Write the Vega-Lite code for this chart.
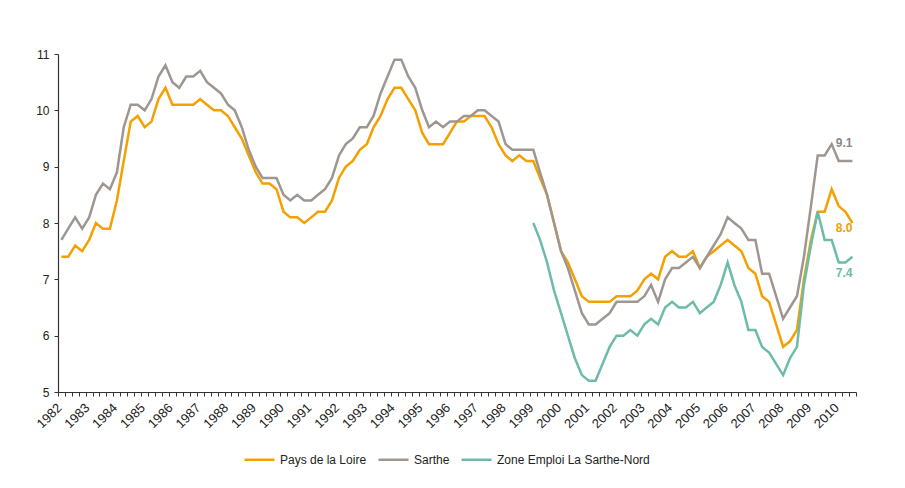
{
  "$schema": "https://vega.github.io/schema/vega-lite/v6.json",
  "width": 798,
  "height": 338,
  "autosize": "none",
  "padding": {"left": 58, "top": 54, "right": 49, "bottom": 96},
  "background": "white",
  "config": {
    "view": {"stroke": null},
    "font": "Liberation Sans",
    "axis": {"grid": false, "title": null, "domainColor": "#333333", "tickColor": "#333333", "labelColor": "#222222", "tickSize": 4, "domainWidth": 1.2, "tickWidth": 1}
  },
  "data": {"values": [
    {"d":"1982-02-15","s":"Pays de la Loire","v":7.4},{"d":"1982-05-15","s":"Pays de la Loire","v":7.4},{"d":"1982-08-15","s":"Pays de la Loire","v":7.6},{"d":"1982-11-15","s":"Pays de la Loire","v":7.5},
    {"d":"1983-02-15","s":"Pays de la Loire","v":7.7},{"d":"1983-05-15","s":"Pays de la Loire","v":8.0},{"d":"1983-08-15","s":"Pays de la Loire","v":7.9},{"d":"1983-11-15","s":"Pays de la Loire","v":7.9},
    {"d":"1984-02-15","s":"Pays de la Loire","v":8.4},{"d":"1984-05-15","s":"Pays de la Loire","v":9.1},{"d":"1984-08-15","s":"Pays de la Loire","v":9.8},{"d":"1984-11-15","s":"Pays de la Loire","v":9.9},
    {"d":"1985-02-15","s":"Pays de la Loire","v":9.7},{"d":"1985-05-15","s":"Pays de la Loire","v":9.8},{"d":"1985-08-15","s":"Pays de la Loire","v":10.2},{"d":"1985-11-15","s":"Pays de la Loire","v":10.4},
    {"d":"1986-02-15","s":"Pays de la Loire","v":10.1},{"d":"1986-05-15","s":"Pays de la Loire","v":10.1},{"d":"1986-08-15","s":"Pays de la Loire","v":10.1},{"d":"1986-11-15","s":"Pays de la Loire","v":10.1},
    {"d":"1987-02-15","s":"Pays de la Loire","v":10.2},{"d":"1987-05-15","s":"Pays de la Loire","v":10.1},{"d":"1987-08-15","s":"Pays de la Loire","v":10.0},{"d":"1987-11-15","s":"Pays de la Loire","v":10.0},
    {"d":"1988-02-15","s":"Pays de la Loire","v":9.9},{"d":"1988-05-15","s":"Pays de la Loire","v":9.7},{"d":"1988-08-15","s":"Pays de la Loire","v":9.5},{"d":"1988-11-15","s":"Pays de la Loire","v":9.2},
    {"d":"1989-02-15","s":"Pays de la Loire","v":8.9},{"d":"1989-05-15","s":"Pays de la Loire","v":8.7},{"d":"1989-08-15","s":"Pays de la Loire","v":8.7},{"d":"1989-11-15","s":"Pays de la Loire","v":8.6},
    {"d":"1990-02-15","s":"Pays de la Loire","v":8.2},{"d":"1990-05-15","s":"Pays de la Loire","v":8.1},{"d":"1990-08-15","s":"Pays de la Loire","v":8.1},{"d":"1990-11-15","s":"Pays de la Loire","v":8.0},
    {"d":"1991-02-15","s":"Pays de la Loire","v":8.1},{"d":"1991-05-15","s":"Pays de la Loire","v":8.2},{"d":"1991-08-15","s":"Pays de la Loire","v":8.2},{"d":"1991-11-15","s":"Pays de la Loire","v":8.4},
    {"d":"1992-02-15","s":"Pays de la Loire","v":8.8},{"d":"1992-05-15","s":"Pays de la Loire","v":9.0},{"d":"1992-08-15","s":"Pays de la Loire","v":9.1},{"d":"1992-11-15","s":"Pays de la Loire","v":9.3},
    {"d":"1993-02-15","s":"Pays de la Loire","v":9.4},{"d":"1993-05-15","s":"Pays de la Loire","v":9.7},{"d":"1993-08-15","s":"Pays de la Loire","v":9.9},{"d":"1993-11-15","s":"Pays de la Loire","v":10.2},
    {"d":"1994-02-15","s":"Pays de la Loire","v":10.4},{"d":"1994-05-15","s":"Pays de la Loire","v":10.4},{"d":"1994-08-15","s":"Pays de la Loire","v":10.2},{"d":"1994-11-15","s":"Pays de la Loire","v":10.0},
    {"d":"1995-02-15","s":"Pays de la Loire","v":9.6},{"d":"1995-05-15","s":"Pays de la Loire","v":9.4},{"d":"1995-08-15","s":"Pays de la Loire","v":9.4},{"d":"1995-11-15","s":"Pays de la Loire","v":9.4},
    {"d":"1996-02-15","s":"Pays de la Loire","v":9.6},{"d":"1996-05-15","s":"Pays de la Loire","v":9.8},{"d":"1996-08-15","s":"Pays de la Loire","v":9.8},{"d":"1996-11-15","s":"Pays de la Loire","v":9.9},
    {"d":"1997-02-15","s":"Pays de la Loire","v":9.9},{"d":"1997-05-15","s":"Pays de la Loire","v":9.9},{"d":"1997-08-15","s":"Pays de la Loire","v":9.7},{"d":"1997-11-15","s":"Pays de la Loire","v":9.4},
    {"d":"1998-02-15","s":"Pays de la Loire","v":9.2},{"d":"1998-05-15","s":"Pays de la Loire","v":9.1},{"d":"1998-08-15","s":"Pays de la Loire","v":9.2},{"d":"1998-11-15","s":"Pays de la Loire","v":9.1},
    {"d":"1999-02-15","s":"Pays de la Loire","v":9.1},{"d":"1999-05-15","s":"Pays de la Loire","v":8.8},{"d":"1999-08-15","s":"Pays de la Loire","v":8.5},{"d":"1999-11-15","s":"Pays de la Loire","v":8.0},
    {"d":"2000-02-15","s":"Pays de la Loire","v":7.5},{"d":"2000-05-15","s":"Pays de la Loire","v":7.3},{"d":"2000-08-15","s":"Pays de la Loire","v":7.0},{"d":"2000-11-15","s":"Pays de la Loire","v":6.7},
    {"d":"2001-02-15","s":"Pays de la Loire","v":6.6},{"d":"2001-05-15","s":"Pays de la Loire","v":6.6},{"d":"2001-08-15","s":"Pays de la Loire","v":6.6},{"d":"2001-11-15","s":"Pays de la Loire","v":6.6},
    {"d":"2002-02-15","s":"Pays de la Loire","v":6.7},{"d":"2002-05-15","s":"Pays de la Loire","v":6.7},{"d":"2002-08-15","s":"Pays de la Loire","v":6.7},{"d":"2002-11-15","s":"Pays de la Loire","v":6.8},
    {"d":"2003-02-15","s":"Pays de la Loire","v":7.0},{"d":"2003-05-15","s":"Pays de la Loire","v":7.1},{"d":"2003-08-15","s":"Pays de la Loire","v":7.0},{"d":"2003-11-15","s":"Pays de la Loire","v":7.4},
    {"d":"2004-02-15","s":"Pays de la Loire","v":7.5},{"d":"2004-05-15","s":"Pays de la Loire","v":7.4},{"d":"2004-08-15","s":"Pays de la Loire","v":7.4},{"d":"2004-11-15","s":"Pays de la Loire","v":7.5},
    {"d":"2005-02-15","s":"Pays de la Loire","v":7.2},{"d":"2005-05-15","s":"Pays de la Loire","v":7.4},{"d":"2005-08-15","s":"Pays de la Loire","v":7.5},{"d":"2005-11-15","s":"Pays de la Loire","v":7.6},
    {"d":"2006-02-15","s":"Pays de la Loire","v":7.7},{"d":"2006-05-15","s":"Pays de la Loire","v":7.6},{"d":"2006-08-15","s":"Pays de la Loire","v":7.5},{"d":"2006-11-15","s":"Pays de la Loire","v":7.2},
    {"d":"2007-02-15","s":"Pays de la Loire","v":7.1},{"d":"2007-05-15","s":"Pays de la Loire","v":6.7},{"d":"2007-08-15","s":"Pays de la Loire","v":6.6},{"d":"2007-11-15","s":"Pays de la Loire","v":6.2},
    {"d":"2008-02-15","s":"Pays de la Loire","v":5.8},{"d":"2008-05-15","s":"Pays de la Loire","v":5.9},{"d":"2008-08-15","s":"Pays de la Loire","v":6.1},{"d":"2008-11-15","s":"Pays de la Loire","v":7.0},
    {"d":"2009-02-15","s":"Pays de la Loire","v":7.7},{"d":"2009-05-15","s":"Pays de la Loire","v":8.2},{"d":"2009-08-15","s":"Pays de la Loire","v":8.2},{"d":"2009-11-15","s":"Pays de la Loire","v":8.6},
    {"d":"2010-02-15","s":"Pays de la Loire","v":8.3},{"d":"2010-05-15","s":"Pays de la Loire","v":8.2},{"d":"2010-08-15","s":"Pays de la Loire","v":8.0},

    {"d":"1982-02-15","s":"Sarthe","v":7.7},{"d":"1982-05-15","s":"Sarthe","v":7.9},{"d":"1982-08-15","s":"Sarthe","v":8.1},{"d":"1982-11-15","s":"Sarthe","v":7.9},
    {"d":"1983-02-15","s":"Sarthe","v":8.1},{"d":"1983-05-15","s":"Sarthe","v":8.5},{"d":"1983-08-15","s":"Sarthe","v":8.7},{"d":"1983-11-15","s":"Sarthe","v":8.6},
    {"d":"1984-02-15","s":"Sarthe","v":8.9},{"d":"1984-05-15","s":"Sarthe","v":9.7},{"d":"1984-08-15","s":"Sarthe","v":10.1},{"d":"1984-11-15","s":"Sarthe","v":10.1},
    {"d":"1985-02-15","s":"Sarthe","v":10.0},{"d":"1985-05-15","s":"Sarthe","v":10.2},{"d":"1985-08-15","s":"Sarthe","v":10.6},{"d":"1985-11-15","s":"Sarthe","v":10.8},
    {"d":"1986-02-15","s":"Sarthe","v":10.5},{"d":"1986-05-15","s":"Sarthe","v":10.4},{"d":"1986-08-15","s":"Sarthe","v":10.6},{"d":"1986-11-15","s":"Sarthe","v":10.6},
    {"d":"1987-02-15","s":"Sarthe","v":10.7},{"d":"1987-05-15","s":"Sarthe","v":10.5},{"d":"1987-08-15","s":"Sarthe","v":10.4},{"d":"1987-11-15","s":"Sarthe","v":10.3},
    {"d":"1988-02-15","s":"Sarthe","v":10.1},{"d":"1988-05-15","s":"Sarthe","v":10.0},{"d":"1988-08-15","s":"Sarthe","v":9.7},{"d":"1988-11-15","s":"Sarthe","v":9.3},
    {"d":"1989-02-15","s":"Sarthe","v":9.0},{"d":"1989-05-15","s":"Sarthe","v":8.8},{"d":"1989-08-15","s":"Sarthe","v":8.8},{"d":"1989-11-15","s":"Sarthe","v":8.8},
    {"d":"1990-02-15","s":"Sarthe","v":8.5},{"d":"1990-05-15","s":"Sarthe","v":8.4},{"d":"1990-08-15","s":"Sarthe","v":8.5},{"d":"1990-11-15","s":"Sarthe","v":8.4},
    {"d":"1991-02-15","s":"Sarthe","v":8.4},{"d":"1991-05-15","s":"Sarthe","v":8.5},{"d":"1991-08-15","s":"Sarthe","v":8.6},{"d":"1991-11-15","s":"Sarthe","v":8.8},
    {"d":"1992-02-15","s":"Sarthe","v":9.2},{"d":"1992-05-15","s":"Sarthe","v":9.4},{"d":"1992-08-15","s":"Sarthe","v":9.5},{"d":"1992-11-15","s":"Sarthe","v":9.7},
    {"d":"1993-02-15","s":"Sarthe","v":9.7},{"d":"1993-05-15","s":"Sarthe","v":9.9},{"d":"1993-08-15","s":"Sarthe","v":10.3},{"d":"1993-11-15","s":"Sarthe","v":10.6},
    {"d":"1994-02-15","s":"Sarthe","v":10.9},{"d":"1994-05-15","s":"Sarthe","v":10.9},{"d":"1994-08-15","s":"Sarthe","v":10.6},{"d":"1994-11-15","s":"Sarthe","v":10.4},
    {"d":"1995-02-15","s":"Sarthe","v":10.0},{"d":"1995-05-15","s":"Sarthe","v":9.7},{"d":"1995-08-15","s":"Sarthe","v":9.8},{"d":"1995-11-15","s":"Sarthe","v":9.7},
    {"d":"1996-02-15","s":"Sarthe","v":9.8},{"d":"1996-05-15","s":"Sarthe","v":9.8},{"d":"1996-08-15","s":"Sarthe","v":9.9},{"d":"1996-11-15","s":"Sarthe","v":9.9},
    {"d":"1997-02-15","s":"Sarthe","v":10.0},{"d":"1997-05-15","s":"Sarthe","v":10.0},{"d":"1997-08-15","s":"Sarthe","v":9.9},{"d":"1997-11-15","s":"Sarthe","v":9.8},
    {"d":"1998-02-15","s":"Sarthe","v":9.4},{"d":"1998-05-15","s":"Sarthe","v":9.3},{"d":"1998-08-15","s":"Sarthe","v":9.3},{"d":"1998-11-15","s":"Sarthe","v":9.3},
    {"d":"1999-02-15","s":"Sarthe","v":9.3},{"d":"1999-05-15","s":"Sarthe","v":8.9},{"d":"1999-08-15","s":"Sarthe","v":8.5},{"d":"1999-11-15","s":"Sarthe","v":8.0},
    {"d":"2000-02-15","s":"Sarthe","v":7.5},{"d":"2000-05-15","s":"Sarthe","v":7.2},{"d":"2000-08-15","s":"Sarthe","v":6.8},{"d":"2000-11-15","s":"Sarthe","v":6.4},
    {"d":"2001-02-15","s":"Sarthe","v":6.2},{"d":"2001-05-15","s":"Sarthe","v":6.2},{"d":"2001-08-15","s":"Sarthe","v":6.3},{"d":"2001-11-15","s":"Sarthe","v":6.4},
    {"d":"2002-02-15","s":"Sarthe","v":6.6},{"d":"2002-05-15","s":"Sarthe","v":6.6},{"d":"2002-08-15","s":"Sarthe","v":6.6},{"d":"2002-11-15","s":"Sarthe","v":6.6},
    {"d":"2003-02-15","s":"Sarthe","v":6.7},{"d":"2003-05-15","s":"Sarthe","v":6.9},{"d":"2003-08-15","s":"Sarthe","v":6.6},{"d":"2003-11-15","s":"Sarthe","v":7.0},
    {"d":"2004-02-15","s":"Sarthe","v":7.2},{"d":"2004-05-15","s":"Sarthe","v":7.2},{"d":"2004-08-15","s":"Sarthe","v":7.3},{"d":"2004-11-15","s":"Sarthe","v":7.4},
    {"d":"2005-02-15","s":"Sarthe","v":7.2},{"d":"2005-05-15","s":"Sarthe","v":7.4},{"d":"2005-08-15","s":"Sarthe","v":7.6},{"d":"2005-11-15","s":"Sarthe","v":7.8},
    {"d":"2006-02-15","s":"Sarthe","v":8.1},{"d":"2006-05-15","s":"Sarthe","v":8.0},{"d":"2006-08-15","s":"Sarthe","v":7.9},{"d":"2006-11-15","s":"Sarthe","v":7.7},
    {"d":"2007-02-15","s":"Sarthe","v":7.7},{"d":"2007-05-15","s":"Sarthe","v":7.1},{"d":"2007-08-15","s":"Sarthe","v":7.1},{"d":"2007-11-15","s":"Sarthe","v":6.7},
    {"d":"2008-02-15","s":"Sarthe","v":6.3},{"d":"2008-05-15","s":"Sarthe","v":6.5},{"d":"2008-08-15","s":"Sarthe","v":6.7},{"d":"2008-11-15","s":"Sarthe","v":7.4},
    {"d":"2009-02-15","s":"Sarthe","v":8.3},{"d":"2009-05-15","s":"Sarthe","v":9.2},{"d":"2009-08-15","s":"Sarthe","v":9.2},{"d":"2009-11-15","s":"Sarthe","v":9.4},
    {"d":"2010-02-15","s":"Sarthe","v":9.1},{"d":"2010-05-15","s":"Sarthe","v":9.1},{"d":"2010-08-15","s":"Sarthe","v":9.1},

    {"d":"1999-02-15","s":"Zone Emploi La Sarthe-Nord","v":8.0},{"d":"1999-05-15","s":"Zone Emploi La Sarthe-Nord","v":7.7},{"d":"1999-08-15","s":"Zone Emploi La Sarthe-Nord","v":7.3},{"d":"1999-11-15","s":"Zone Emploi La Sarthe-Nord","v":6.8},
    {"d":"2000-02-15","s":"Zone Emploi La Sarthe-Nord","v":6.4},{"d":"2000-05-15","s":"Zone Emploi La Sarthe-Nord","v":6.0},{"d":"2000-08-15","s":"Zone Emploi La Sarthe-Nord","v":5.6},{"d":"2000-11-15","s":"Zone Emploi La Sarthe-Nord","v":5.3},
    {"d":"2001-02-15","s":"Zone Emploi La Sarthe-Nord","v":5.2},{"d":"2001-05-15","s":"Zone Emploi La Sarthe-Nord","v":5.2},{"d":"2001-08-15","s":"Zone Emploi La Sarthe-Nord","v":5.5},{"d":"2001-11-15","s":"Zone Emploi La Sarthe-Nord","v":5.8},
    {"d":"2002-02-15","s":"Zone Emploi La Sarthe-Nord","v":6.0},{"d":"2002-05-15","s":"Zone Emploi La Sarthe-Nord","v":6.0},{"d":"2002-08-15","s":"Zone Emploi La Sarthe-Nord","v":6.1},{"d":"2002-11-15","s":"Zone Emploi La Sarthe-Nord","v":6.0},
    {"d":"2003-02-15","s":"Zone Emploi La Sarthe-Nord","v":6.2},{"d":"2003-05-15","s":"Zone Emploi La Sarthe-Nord","v":6.3},{"d":"2003-08-15","s":"Zone Emploi La Sarthe-Nord","v":6.2},{"d":"2003-11-15","s":"Zone Emploi La Sarthe-Nord","v":6.5},
    {"d":"2004-02-15","s":"Zone Emploi La Sarthe-Nord","v":6.6},{"d":"2004-05-15","s":"Zone Emploi La Sarthe-Nord","v":6.5},{"d":"2004-08-15","s":"Zone Emploi La Sarthe-Nord","v":6.5},{"d":"2004-11-15","s":"Zone Emploi La Sarthe-Nord","v":6.6},
    {"d":"2005-02-15","s":"Zone Emploi La Sarthe-Nord","v":6.4},{"d":"2005-05-15","s":"Zone Emploi La Sarthe-Nord","v":6.5},{"d":"2005-08-15","s":"Zone Emploi La Sarthe-Nord","v":6.6},{"d":"2005-11-15","s":"Zone Emploi La Sarthe-Nord","v":6.9},
    {"d":"2006-02-15","s":"Zone Emploi La Sarthe-Nord","v":7.3},{"d":"2006-05-15","s":"Zone Emploi La Sarthe-Nord","v":6.9},{"d":"2006-08-15","s":"Zone Emploi La Sarthe-Nord","v":6.6},{"d":"2006-11-15","s":"Zone Emploi La Sarthe-Nord","v":6.1},
    {"d":"2007-02-15","s":"Zone Emploi La Sarthe-Nord","v":6.1},{"d":"2007-05-15","s":"Zone Emploi La Sarthe-Nord","v":5.8},{"d":"2007-08-15","s":"Zone Emploi La Sarthe-Nord","v":5.7},{"d":"2007-11-15","s":"Zone Emploi La Sarthe-Nord","v":5.5},
    {"d":"2008-02-15","s":"Zone Emploi La Sarthe-Nord","v":5.3},{"d":"2008-05-15","s":"Zone Emploi La Sarthe-Nord","v":5.6},{"d":"2008-08-15","s":"Zone Emploi La Sarthe-Nord","v":5.8},{"d":"2008-11-15","s":"Zone Emploi La Sarthe-Nord","v":6.9},
    {"d":"2009-02-15","s":"Zone Emploi La Sarthe-Nord","v":7.6},{"d":"2009-05-15","s":"Zone Emploi La Sarthe-Nord","v":8.2},{"d":"2009-08-15","s":"Zone Emploi La Sarthe-Nord","v":7.7},{"d":"2009-11-15","s":"Zone Emploi La Sarthe-Nord","v":7.7},
    {"d":"2010-02-15","s":"Zone Emploi La Sarthe-Nord","v":7.3},{"d":"2010-05-15","s":"Zone Emploi La Sarthe-Nord","v":7.3},{"d":"2010-08-15","s":"Zone Emploi La Sarthe-Nord","v":7.4}
  ]},
  "encoding": {
    "x": {
      "field": "d", "type": "temporal",
      "scale": {"type": "utc", "nice": false, "domain": [{"year": 1982, "month": 1, "date": 1, "utc": true}, {"year": 2010, "month": 10, "date": 1, "utc": true}]},
      "axis": {
        "values": [
          {"year":1982,"month":1,"utc":true},{"year":1982,"month":4,"utc":true},{"year":1982,"month":7,"utc":true},{"year":1982,"month":10,"utc":true},
          {"year":1983,"month":1,"utc":true},{"year":1983,"month":4,"utc":true},{"year":1983,"month":7,"utc":true},{"year":1983,"month":10,"utc":true},
          {"year":1984,"month":1,"utc":true},{"year":1984,"month":4,"utc":true},{"year":1984,"month":7,"utc":true},{"year":1984,"month":10,"utc":true},
          {"year":1985,"month":1,"utc":true},{"year":1985,"month":4,"utc":true},{"year":1985,"month":7,"utc":true},{"year":1985,"month":10,"utc":true},
          {"year":1986,"month":1,"utc":true},{"year":1986,"month":4,"utc":true},{"year":1986,"month":7,"utc":true},{"year":1986,"month":10,"utc":true},
          {"year":1987,"month":1,"utc":true},{"year":1987,"month":4,"utc":true},{"year":1987,"month":7,"utc":true},{"year":1987,"month":10,"utc":true},
          {"year":1988,"month":1,"utc":true},{"year":1988,"month":4,"utc":true},{"year":1988,"month":7,"utc":true},{"year":1988,"month":10,"utc":true},
          {"year":1989,"month":1,"utc":true},{"year":1989,"month":4,"utc":true},{"year":1989,"month":7,"utc":true},{"year":1989,"month":10,"utc":true},
          {"year":1990,"month":1,"utc":true},{"year":1990,"month":4,"utc":true},{"year":1990,"month":7,"utc":true},{"year":1990,"month":10,"utc":true},
          {"year":1991,"month":1,"utc":true},{"year":1991,"month":4,"utc":true},{"year":1991,"month":7,"utc":true},{"year":1991,"month":10,"utc":true},
          {"year":1992,"month":1,"utc":true},{"year":1992,"month":4,"utc":true},{"year":1992,"month":7,"utc":true},{"year":1992,"month":10,"utc":true},
          {"year":1993,"month":1,"utc":true},{"year":1993,"month":4,"utc":true},{"year":1993,"month":7,"utc":true},{"year":1993,"month":10,"utc":true},
          {"year":1994,"month":1,"utc":true},{"year":1994,"month":4,"utc":true},{"year":1994,"month":7,"utc":true},{"year":1994,"month":10,"utc":true},
          {"year":1995,"month":1,"utc":true},{"year":1995,"month":4,"utc":true},{"year":1995,"month":7,"utc":true},{"year":1995,"month":10,"utc":true},
          {"year":1996,"month":1,"utc":true},{"year":1996,"month":4,"utc":true},{"year":1996,"month":7,"utc":true},{"year":1996,"month":10,"utc":true},
          {"year":1997,"month":1,"utc":true},{"year":1997,"month":4,"utc":true},{"year":1997,"month":7,"utc":true},{"year":1997,"month":10,"utc":true},
          {"year":1998,"month":1,"utc":true},{"year":1998,"month":4,"utc":true},{"year":1998,"month":7,"utc":true},{"year":1998,"month":10,"utc":true},
          {"year":1999,"month":1,"utc":true},{"year":1999,"month":4,"utc":true},{"year":1999,"month":7,"utc":true},{"year":1999,"month":10,"utc":true},
          {"year":2000,"month":1,"utc":true},{"year":2000,"month":4,"utc":true},{"year":2000,"month":7,"utc":true},{"year":2000,"month":10,"utc":true},
          {"year":2001,"month":1,"utc":true},{"year":2001,"month":4,"utc":true},{"year":2001,"month":7,"utc":true},{"year":2001,"month":10,"utc":true},
          {"year":2002,"month":1,"utc":true},{"year":2002,"month":4,"utc":true},{"year":2002,"month":7,"utc":true},{"year":2002,"month":10,"utc":true},
          {"year":2003,"month":1,"utc":true},{"year":2003,"month":4,"utc":true},{"year":2003,"month":7,"utc":true},{"year":2003,"month":10,"utc":true},
          {"year":2004,"month":1,"utc":true},{"year":2004,"month":4,"utc":true},{"year":2004,"month":7,"utc":true},{"year":2004,"month":10,"utc":true},
          {"year":2005,"month":1,"utc":true},{"year":2005,"month":4,"utc":true},{"year":2005,"month":7,"utc":true},{"year":2005,"month":10,"utc":true},
          {"year":2006,"month":1,"utc":true},{"year":2006,"month":4,"utc":true},{"year":2006,"month":7,"utc":true},{"year":2006,"month":10,"utc":true},
          {"year":2007,"month":1,"utc":true},{"year":2007,"month":4,"utc":true},{"year":2007,"month":7,"utc":true},{"year":2007,"month":10,"utc":true},
          {"year":2008,"month":1,"utc":true},{"year":2008,"month":4,"utc":true},{"year":2008,"month":7,"utc":true},{"year":2008,"month":10,"utc":true},
          {"year":2009,"month":1,"utc":true},{"year":2009,"month":4,"utc":true},{"year":2009,"month":7,"utc":true},{"year":2009,"month":10,"utc":true},
          {"year":2010,"month":1,"utc":true},{"year":2010,"month":4,"utc":true},{"year":2010,"month":7,"utc":true},{"year":2010,"month":10,"utc":true}
        ],
        "labelExpr": "utcmonth(datum.value) == 0 ? utcFormat(datum.value, '%Y') : ''",
        "labelAngle": -45, "labelAlign": "right", "labelBaseline": "top",
        "labelOverlap": false, "labelFlush": false, "labelBound": false,
        "labelFontSize": 13, "labelPadding": 5, "labelOffset": -3
      }
    },
    "y": {
      "field": "v", "type": "quantitative",
      "scale": {"domain": [5, 11], "nice": false, "zero": false},
      "axis": {"values": [5, 6, 7, 8, 9, 10, 11], "labelFontSize": 12, "labelPadding": 5}
    }
  },
  "layer": [
    {
      "mark": {"type": "line", "strokeWidth": 2.5, "clip": false},
      "encoding": {
        "color": {
          "field": "s", "type": "nominal",
          "scale": {"domain": ["Pays de la Loire", "Sarthe", "Zone Emploi La Sarthe-Nord"], "range": ["#F4A000", "#9E9691", "#6DBBA9"]},
          "legend": {
            "orient": "none", "legendX": 185, "legendY": 389, "direction": "horizontal", "title": null,
            "symbolType": "stroke", "symbolStrokeWidth": 2.5, "symbolSize": 900,
            "labelFontSize": 12, "labelColor": "#222222", "columnPadding": 6, "labelOffset": 4
          }
        }
      }
    },
    {
      "transform": [
        {"window": [{"op": "row_number", "as": "rn"}], "groupby": ["s"], "sort": [{"field": "d", "order": "descending"}]},
        {"filter": "datum.rn == 1 && datum.s == 'Sarthe'"}
      ],
      "mark": {"type": "text", "align": "right", "baseline": "middle", "dy": -18, "fontSize": 12, "fontWeight": "bold", "color": "#8F8781"},
      "encoding": {"text": {"field": "v", "type": "quantitative", "format": ".1f"}}
    },
    {
      "transform": [
        {"window": [{"op": "row_number", "as": "rn"}], "groupby": ["s"], "sort": [{"field": "d", "order": "descending"}]},
        {"filter": "datum.rn == 1 && datum.s == 'Pays de la Loire'"}
      ],
      "mark": {"type": "text", "align": "right", "baseline": "middle", "dy": 5, "fontSize": 12, "fontWeight": "bold", "color": "#F4A000"},
      "encoding": {"text": {"field": "v", "type": "quantitative", "format": ".1f"}}
    },
    {
      "transform": [
        {"window": [{"op": "row_number", "as": "rn"}], "groupby": ["s"], "sort": [{"field": "d", "order": "descending"}]},
        {"filter": "datum.rn == 1 && datum.s == 'Zone Emploi La Sarthe-Nord'"}
      ],
      "mark": {"type": "text", "align": "right", "baseline": "middle", "dy": 16, "fontSize": 12, "fontWeight": "bold", "color": "#6DBBA9"},
      "encoding": {"text": {"field": "v", "type": "quantitative", "format": ".1f"}}
    }
  ]
}
